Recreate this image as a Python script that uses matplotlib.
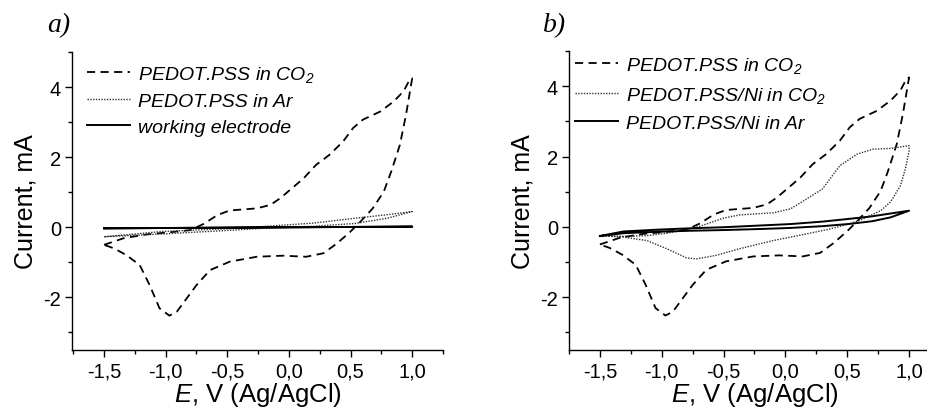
import numpy as np
import matplotlib
matplotlib.use("Agg")
import matplotlib.pyplot as plt
from matplotlib.ticker import MultipleLocator, FuncFormatter

# ---- data: PEDOT.PSS in CO2 (dashed, both panels) ----
co2_E = [-1.50, -1.34, -1.15, -0.96, -0.80, -0.69, -0.58, -0.48, -0.26, -0.15, -0.07, 0.01, 0.12,
         0.22, 0.33, 0.44, 0.52, 0.60, 0.74, 0.85, 0.93, 0.98, 1.00,
         0.95, 0.90, 0.83, 0.77, 0.68, 0.58, 0.50, 0.39, 0.28, 0.14, -0.05, -0.26, -0.48, -0.64,
         -0.75, -0.83, -0.91, -0.97, -1.05, -1.13, -1.21, -1.32, -1.42, -1.50]
co2_I = [-0.50, -0.31, -0.20, -0.14, -0.08, 0.10, 0.35, 0.48, 0.54, 0.64, 0.83, 1.07, 1.40,
         1.78, 2.07, 2.45, 2.83, 3.07, 3.30, 3.59, 3.88, 4.21, 4.25,
         3.21, 2.35, 1.59, 1.02, 0.54, 0.16, -0.12, -0.46, -0.74, -0.84, -0.81, -0.84, -0.98, -1.22,
         -1.65, -2.03, -2.41, -2.52, -2.31, -1.65, -1.08, -0.79, -0.60, -0.50]

# ---- PEDOT.PSS in Ar (dotted, panel a) ----
ar_E = [-1.5, -1.03, -0.5, -0.22, 0.2, 0.54, 0.8, 1.0, 0.8, 0.54, 0.2, -0.22, -0.5, -1.03, -1.5]
ar_I = [-0.27, -0.12, -0.04, 0.02, 0.12, 0.26, 0.36, 0.45, 0.26, 0.11, 0.03, -0.03, -0.09, -0.19, -0.27]

# ---- working electrode (solid, panel a) ----
we_E = [-1.5, -1.0, -0.5, 0.0, 0.5, 1.0, 0.5, 0.0, -0.5, -1.0, -1.5]
we_I = [-0.03, -0.02, -0.01, 0.00, 0.01, 0.02, 0.01, 0.00, -0.01, -0.02, -0.03]

# ---- PEDOT.PSS/Ni in CO2 (dotted, panel b) ----
ni_co2_E = [-1.50, -1.31, -1.12, -0.96, -0.80, -0.69, -0.50, -0.37, -0.10, 0.04, 0.17, 0.30, 0.44,
            0.58, 0.71, 0.85, 1.00,
            1.00, 0.97, 0.93, 0.85, 0.77, 0.63, 0.52, 0.36, 0.17, -0.10, -0.37, -0.56, -0.72,
            -0.80, -0.96, -1.12, -1.31, -1.50]
ni_co2_I = [-0.25, -0.27, -0.25, -0.18, -0.08, 0.02, 0.25, 0.34, 0.40, 0.51, 0.79, 1.08, 1.74,
            2.07, 2.21, 2.23, 2.31,
            2.16, 1.65, 1.17, 0.71, 0.46, 0.23, 0.09, -0.06, -0.20, -0.39, -0.62, -0.81, -0.91,
            -0.88, -0.62, -0.39, -0.29, -0.25]

# ---- PEDOT.PSS/Ni in Ar (solid, panel b) ----
ni_ar_E = [-1.5, -1.31, -1.04, -0.77, -0.5, -0.2, 0.04, 0.3, 0.52, 0.7, 0.85, 1.0,
           0.85, 0.7, 0.52, 0.3, 0.04, -0.2, -0.5, -0.77, -1.04, -1.31, -1.5]
ni_ar_I = [-0.26, -0.13, -0.08, -0.04, -0.01, 0.04, 0.08, 0.15, 0.23, 0.30, 0.38, 0.46,
           0.27, 0.16, 0.085, 0.02, -0.03, -0.06, -0.09, -0.11, -0.14, -0.18, -0.26]

labels_a = ["PEDOT.PSS in CO$_2$", "PEDOT.PSS in Ar", "working electrode"]
labels_b = ["PEDOT.PSS in CO$_2$", "PEDOT.PSS/Ni in CO$_2$", "PEDOT.PSS/Ni in Ar"]
xticks = [-1.5, -1.0, -0.5, 0.0, 0.5, 1.0]
yticks = [-2, 0, 2, 4]

plt.rcParams['font.family'] = ['Liberation Sans', 'DejaVu Sans']
plt.rcParams['mathtext.fontset'] = 'custom'
plt.rcParams['mathtext.it'] = 'Liberation Sans:italic'
plt.rcParams['mathtext.rm'] = 'Liberation Sans:italic'

fig = plt.figure(figsize=(9.28, 4.10), dpi=100)
W, H = 928, 410
ax_a = fig.add_axes([72 / W, 1 - 351 / H, 371 / W, 298 / H])
ax_b = fig.add_axes([569 / W, 1 - 351 / H, 371 / W, 299 / H])

dash = (0, (4.5, 3))
dot = (0, (1, 1))

def style(ax):
    ax.set_xlim(-1.76, 1.25)
    ax.set_ylim(-3.5, 5.0)
    ax.spines['top'].set_visible(False)
    ax.spines['right'].set_visible(False)
    for s in ('left', 'bottom'):
        ax.spines[s].set_linewidth(1.0)
    ax.set_xticks(xticks)
    ax.set_yticks(yticks)
    ax.xaxis.set_minor_locator(MultipleLocator(0.25))
    ax.yaxis.set_minor_locator(MultipleLocator(1))
    ax.xaxis.set_major_formatter(FuncFormatter(lambda v, p: f"{v:.1f}".replace('.', ',')))
    ax.yaxis.set_major_formatter(FuncFormatter(lambda v, p: f"{v:.0f}"))
    ax.tick_params(which='major', direction='out', length=5, width=1, labelsize=14.5, pad=3)
    ax.tick_params(which='minor', direction='out', length=3, width=1)
    ax.set_ylabel("Current, mA", fontsize=18, labelpad=4)
    ax.set_xlabel("$E$, V (Ag/AgCl)", fontsize=18.5, labelpad=0)

ax_a.plot(co2_E, co2_I, color='black', lw=1.3, linestyle=dash, label=labels_a[0])
ax_a.plot(ar_E, ar_I, color='#333333', lw=1.0, linestyle=dot, label=labels_a[1])
ax_a.plot(we_E, we_I, color='black', lw=1.4, linestyle='-', label=labels_a[2])
style(ax_a)

ax_b.plot(co2_E, co2_I, color='black', lw=1.3, linestyle=dash, label=labels_b[0])
ax_b.plot(ni_co2_E, ni_co2_I, color='#333333', lw=1.0, linestyle=dot, label=labels_b[1])
ax_b.plot(ni_ar_E, ni_ar_I, color='black', lw=1.4, linestyle='-', label=labels_b[2])
style(ax_b)
ax_b.set_xlim(-1.75, 1.25)

for ax, anchor, sp in ((ax_a, (15 / 371, 1 - 12 / 298), 0.42), (ax_b, (6 / 371, 1 - 4 / 299), 0.5)):
    leg = ax.legend(loc='upper left', frameon=False, fontsize=14, handlelength=2.2,
                    handletextpad=0.4, labelspacing=sp, borderaxespad=0, borderpad=0,
                    bbox_to_anchor=anchor)
    for t in leg.get_texts():
        t.set_fontstyle('italic')

fig.text(47 / W, 1 - 26 / H, "a)", fontsize=20, family='Liberation Serif', style='italic',
         va='center', ha='left')
fig.text(543 / W, 1 - 26 / H, "b)", fontsize=20, family='Liberation Serif', style='italic',
         va='center', ha='left')

fig.savefig("out.png", dpi=100)
